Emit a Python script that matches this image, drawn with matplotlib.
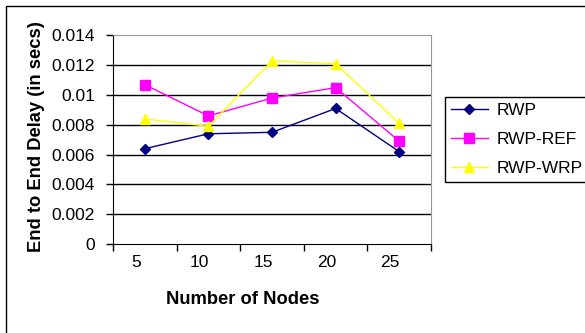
import numpy as np
import matplotlib.pyplot as plt
from matplotlib.patches import Rectangle
from matplotlib.transforms import ScaledTranslation

plt.rcParams['font.family'] = ['Liberation Sans', 'DejaVu Sans']

nodes = ['5', '10', '15', '20', '25']
rwp = [0.0064, 0.0074, 0.0075, 0.0091, 0.0062]
rwp_ref = [0.0107, 0.0086, 0.0098, 0.0105, 0.0069]
rwp_wrp = [0.0084, 0.0079, 0.0123, 0.0121, 0.0081]
y_ticks = [0, 0.002, 0.004, 0.006, 0.008, 0.01, 0.012, 0.014]
y_labels = ['0', '0.002', '0.004', '0.006', '0.008', '0.01', '0.012', '0.014']

fig = plt.figure(figsize=(5.85, 3.33), dpi=100)
ax = fig.add_axes([0.1932, 0.2673, 0.5436, 0.6261])

x = np.arange(len(nodes))
ax.plot(x, rwp, color='#000080', lw=1, marker='D', ms=5.5, label='RWP')
ax.plot(x, rwp_ref, color='#FF00FF', lw=1, marker='s', ms=6.5, label='RWP-REF')
ax.plot(x, rwp_wrp, color='#FFFF00', lw=1, marker='^', ms=7.5, label='RWP-WRP')

ax.set_xlim(-0.5, len(nodes) - 0.5)
ax.set_ylim(0, 0.014)

# category boundaries carry the tick marks, labels sit between them
ax.set_xticks(np.arange(len(nodes) + 1) - 0.5)
ax.set_xticklabels([])
ax.set_xticks(x, minor=True)
ax.set_xticklabels(nodes, minor=True, fontsize=12.5)
ax.tick_params(axis='x', which='major', direction='out', length=5, width=1, color='black')
ax.tick_params(axis='x', which='minor', length=0, pad=8)
for lbl in ax.get_xticklabels(minor=True):
    lbl.set_transform(lbl.get_transform() + ScaledTranslation(-9 / 100, 0, fig.dpi_scale_trans))

ax.set_yticks(y_ticks)
ax.set_yticklabels(y_labels, fontsize=12.5)
ax.tick_params(axis='y', direction='out', length=5, width=1, color='black', pad=8)

for yv in y_ticks[1:-1]:
    ax.axhline(yv, color='black', lw=1, zorder=0.5)

ax.spines['left'].set_color('black')
ax.spines['bottom'].set_color('black')
ax.spines['top'].set_color('#999999')
ax.spines['right'].set_color('#999999')

ax.set_xlabel('Number of Nodes', fontsize=13.2, fontweight='bold')
ax.xaxis.set_label_coords(0.409, -0.225)
ax.set_ylabel('End to End Delay (in secs)', fontsize=13.2, fontweight='bold')
ax.yaxis.set_label_coords(-0.215, 0.513)

leg = fig.legend(loc='upper left', bbox_to_anchor=(445 / 585, 1 - 97 / 333), fontsize=12.5,
                 frameon=True, fancybox=False, edgecolor='black', framealpha=1,
                 borderpad=0.35, labelspacing=0.78, handlelength=2.1, handletextpad=0.55,
                 borderaxespad=0)
leg.get_frame().set_linewidth(1)

# outer chart border
fig.patches.append(Rectangle((6 / 585, -0.05), 1.1, 1 - 6 / 333 + 0.05,
                             transform=fig.transFigure, fill=False,
                             edgecolor='black', lw=1))

fig.savefig('out.png', dpi=100)
